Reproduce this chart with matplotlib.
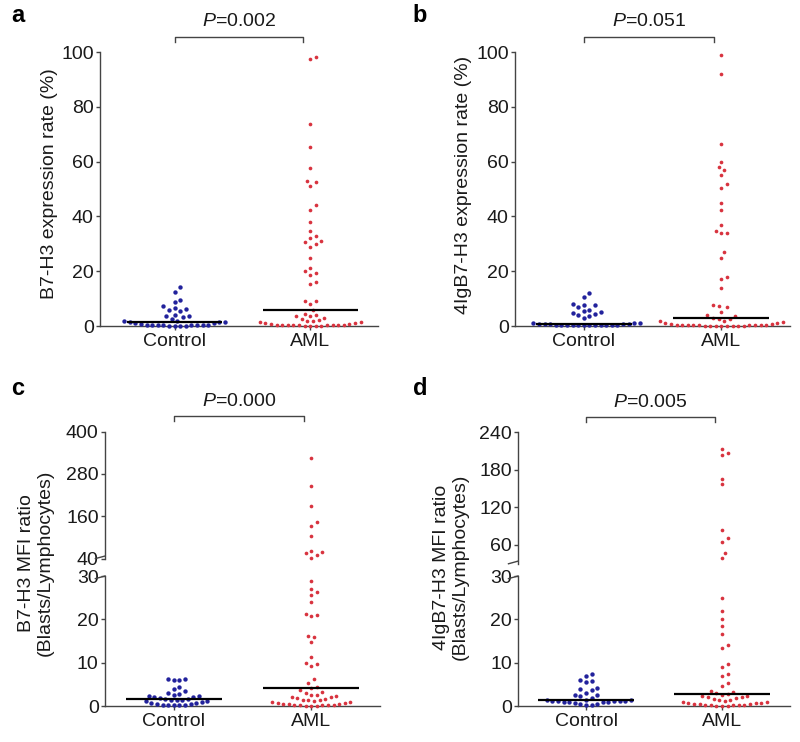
import numpy as np
import matplotlib
matplotlib.use("Agg")
import matplotlib.pyplot as plt
from matplotlib.transforms import blended_transform_factory

plt.rcParams['font.family'] = ['Liberation Sans', 'DejaVu Sans']
plt.rcParams['mathtext.fontset'] = 'custom'
plt.rcParams['mathtext.rm'] = 'Liberation Sans'
plt.rcParams['mathtext.it'] = 'Liberation Sans:italic'

groups = ['Control', 'AML']

# panel a: B7-H3 expression rate (%)
a_ctrl = [14.2, 12.6, 9.6, 8.8, 7.2, 6.6, 6.2, 5.8, 5.6, 4.2, 3.8, 3.6, 3.4, 2.4, 2.0, 1.8,
          1.6, 1.6, 1.4, 1.2, 1.0, 0.6, 0.5, 0.4, 0.4, 0.3, 0.3, 0.2, 0.2, 0.2, 0.1, 0.1, 0.1, 0.1]
a_aml = [98.2, 97.6, 73.9, 65.5, 57.5, 53.0, 52.5, 51.0, 44.0, 42.5, 38.0, 34.5, 33.0, 32.0,
         31.0, 30.5, 30.0, 29.0, 25.0, 21.0, 20.0, 19.5, 18.5, 16.0, 15.5, 9.2, 9.0, 8.2, 5.8,
         4.5, 4.0, 3.8, 3.5, 2.8, 2.5, 2.2, 2.0, 2.0, 1.6, 1.4, 1.2, 1.0, 0.8, 0.6, 0.5, 0.5,
         0.4, 0.4, 0.3, 0.3, 0.2, 0.2, 0.2, 0.1, 0.1, 0.1, 0.1]

# panel b: 4IgB7-H3 expression rate (%)
b_ctrl = [12.0, 10.5, 8.0, 7.8, 7.5, 7.0, 6.0, 5.5, 5.0, 4.8, 4.5, 4.0, 3.5, 3.0, 1.2, 1.0, 1.0,
          0.8, 0.8, 0.7, 0.6, 0.6, 0.5, 0.5, 0.5, 0.5, 0.5, 0.4, 0.4, 0.4, 0.3, 0.3, 0.3, 0.3]
b_aml = [99.0, 92.0, 66.5, 60.0, 58.0, 57.0, 55.0, 52.0, 50.5, 45.0, 42.5, 37.0, 34.5, 34.0,
         33.8, 27.0, 25.0, 18.0, 17.0, 14.0, 7.5, 7.2, 6.8, 5.2, 4.0, 3.5, 2.8, 2.6, 2.4, 2.0,
         1.8, 1.5, 1.2, 1.0, 0.8, 0.6, 0.5, 0.5, 0.4, 0.4, 0.3, 0.3, 0.2, 0.2, 0.2, 0.1, 0.1,
         0.1, 0.1, 0.1, 0.1, 0.1, 0.1]

# panel c: B7-H3 MFI ratio
c_ctrl = [6.2, 6.2, 6.1, 6.0, 4.3, 4.0, 3.4, 3.0, 2.8, 2.6, 2.4, 2.2, 2.0, 2.0, 1.8, 1.6,
          1.6, 1.5, 1.5, 1.4, 1.2, 1.2, 1.0, 0.8, 0.6, 0.5, 0.4, 0.3, 0.3, 0.2, 0.2, 0.2]
c_aml = [325, 246, 190, 145, 133, 105, 62, 58, 55, 50, 43,
         28.8, 26.9, 26.2, 25.6, 24.0, 21.2, 21.0, 20.8, 16.2, 16.0, 14.8, 11.2, 10.0, 9.8,
         9.2, 6.2, 5.2, 4.5, 4.1, 3.6, 3.2, 3.0, 2.6, 2.5, 2.4, 2.0, 2.0, 1.8, 1.6, 1.5, 1.5,
         1.4, 1.2, 1.0, 1.0, 0.8, 0.6, 0.5, 0.5, 0.4, 0.3, 0.3, 0.2, 0.2, 0.2, 0.1, 0.1, 0.1]

# panel d: 4IgB7-H3 MFI ratio
d_ctrl = [7.5, 7.0, 6.0, 5.8, 5.5, 4.2, 4.0, 3.8, 3.0, 2.6, 2.5, 2.2, 1.8, 1.5, 1.3, 1.3,
          1.2, 1.2, 1.2, 1.1, 1.1, 1.0, 1.0, 1.0, 0.9, 0.8, 0.5, 0.4, 0.3, 0.2]
d_aml = [214, 207, 204, 166, 157, 84, 71, 64, 47, 39,
         24.9, 21.9, 20.0, 18.4, 16.7, 14.0, 13.3, 9.8, 8.9, 7.4, 7.0, 5.3, 4.6, 3.5, 3.2,
         3.0, 2.7, 2.5, 2.4, 2.2, 2.0, 2.0, 1.8, 1.6, 1.5, 1.4, 1.2, 1.0, 1.0, 0.8, 0.8, 0.6,
         0.5, 0.5, 0.4, 0.3, 0.3, 0.2, 0.2, 0.2, 0.1, 0.1, 0.1]

p_texts = ['0.002', '0.051', '0.000', '0.005']

BLUE = '#22229c'
RED = '#d8333f'
AX = '#444444'
TXT = '#1a1a1a'

fig = plt.figure(figsize=(8, 7.42), dpi=100)


def style(ax, bottom=True):
    for s in ['top', 'right']:
        ax.spines[s].set_visible(False)
    ax.spines['left'].set_color(AX)
    ax.spines['left'].set_linewidth(1.0)
    ax.spines['bottom'].set_color(AX)
    ax.spines['bottom'].set_linewidth(1.0)
    ax.tick_params(axis='y', length=3, width=1.0, color=AX, pad=1.5,
                   labelsize=14, labelcolor=TXT)
    ax.set_xticks([0, 1])
    if bottom:
        ax.set_xticklabels(groups)
        ax.tick_params(axis='x', length=3, width=1.0, color=AX, pad=2,
                       labelsize=14, labelcolor=TXT)
    else:
        ax.spines['bottom'].set_visible(False)
        ax.tick_params(axis='x', bottom=False, labelbottom=False)


def swarm(ax, xc, vals, d=5.6):
    vals = np.asarray(vals, dtype=float)
    pts = ax.transData.transform(np.column_stack([np.full(len(vals), xc), vals]))
    x0 = pts[0, 0]
    offs = [0.0]
    for j in range(1, 80):
        offs += [j * d / 2, -j * d / 2]
    placed = []
    xs = np.empty(len(vals))
    for i in np.argsort(vals, kind='stable'):
        y = pts[i, 1]
        for off in offs:
            if all((off - px) ** 2 + (y - py) ** 2 >= (d * 0.98) ** 2 for px, py in placed):
                break
        placed.append((off, y))
        xs[i] = x0 + off
    back = ax.transData.inverted().transform(np.column_stack([xs, pts[:, 1]]))
    return back[:, 0]


def draw_group(ax, xc, vals, color, size, cut=None, upper=False):
    vals = np.asarray(vals, dtype=float)
    if cut is not None:
        vals = vals[vals > cut] if upper else vals[vals <= cut]
    if len(vals) == 0:
        return
    xs = swarm(ax, xc, vals)
    ax.scatter(xs, vals, s=size, color=color, linewidths=0, clip_on=False, zorder=3)


def median_line(ax, xc, vals, hw=0.35):
    ax.plot([xc - hw, xc + hw], [np.median(vals)] * 2, color='black', lw=1.6,
            zorder=4, solid_capstyle='butt')


def bracket(ax, p, y_line, y_text):
    tr = blended_transform_factory(ax.transData, fig.transFigure)
    ax.plot([0, 0, 0.95, 0.95], [y_line - 0.006, y_line, y_line, y_line - 0.006],
            color=AX, lw=1.0, transform=tr, clip_on=False)
    ax.text(0.475, y_text, r'$\it{P}$=' + p, transform=tr, ha='center', va='center',
            fontsize=14, color=TXT)


# ---- panels a and b (simple axes) ----
simple = [
    ([0.125, 0.5606, 0.3475, 0.3693], (-0.55, 1.5), a_ctrl, a_aml, p_texts[0],
     'B7-H3 expression rate (%)', (0.0625, 0.752), 'a', (0.022, 0.979)),
    ([0.6438, 0.5606, 0.3438, 0.3693], (-0.5, 1.5), b_ctrl, b_aml, p_texts[1],
     '4IgB7-H3 expression rate (%)', (0.579, 0.751), 'b', (0.525, 0.979)),
]
for rect, xl, ctrl, aml, p, ylab, lpos, letter, tpos in simple:
    ax = fig.add_axes(rect)
    style(ax)
    ax.set_xlim(*xl)
    ax.set_ylim(0, 100)
    ax.set_yticks([0, 20, 40, 60, 80, 100])
    draw_group(ax, 0, ctrl, BLUE, 10)
    draw_group(ax, 1, aml, RED, 7)
    median_line(ax, 0, ctrl)
    median_line(ax, 1, aml)
    bracket(ax, p, 0.950, 0.971)
    fig.text(lpos[0], lpos[1], ylab, rotation=90, ha='center', va='center',
             fontsize=14, color=TXT)
    fig.text(tpos[0], tpos[1], letter, ha='center', va='center', fontsize=17,
             fontweight='bold', color='black')

# ---- panels c and d (broken y axes) ----
broken = [
    (0.13125, 0.34375, [0.2472, 0.1710], (40, 400), [40, 160, 280, 400], 40,
     c_ctrl, c_aml, p_texts[2], 'B7-H3 MFI ratio\n(Blasts/Lymphocytes)', (0.045, 0.241),
     'c', (0.022, 0.477)),
    (0.6475, 0.34, [0.2402, 0.1772], (30, 240), [60, 120, 180, 240], 30,
     d_ctrl, d_aml, p_texts[3], '4IgB7-H3 MFI ratio\n(Blasts/Lymphocytes)', (0.564, 0.236),
     'd', (0.525, 0.477)),
]
for left, width, up, ulim, uticks, cut, ctrl, aml, p, ylab, lpos, letter, tpos in broken:
    low = fig.add_axes([left, 0.0485, width, 0.1752])
    top = fig.add_axes([left, up[0], width, up[1]])
    style(low)
    style(top, bottom=False)
    for ax in (low, top):
        ax.set_xlim(-0.5, 1.5)
    low.set_ylim(0, 30)
    low.set_yticks([0, 10, 20, 30])
    top.set_ylim(*ulim)
    top.set_yticks(uticks)
    for ax, is_up in ((low, False), (top, True)):
        draw_group(ax, 0, ctrl, BLUE, 10, cut, is_up)
        draw_group(ax, 1, aml, RED, 7, cut, is_up)
    median_line(low, 0, ctrl)
    median_line(low, 1, aml)
    # small break marks on the y axis
    for ax, yv in ((top, 0.0), (low, 1.0)):
        ax.plot([-0.035, 0.0], [yv - 0.02 if yv else yv - 0.0, yv + 0.02 if not yv else yv],
                transform=ax.transAxes, color=AX, lw=1.0, clip_on=False)
    y_top = up[0] + up[1]
    bracket(top, p, y_top + 0.0205, y_top + 0.0405)
    fig.text(lpos[0], lpos[1], ylab, rotation=90, ha='center', va='center',
             fontsize=14, color=TXT, linespacing=1.15)
    fig.text(tpos[0], tpos[1], letter, ha='center', va='center', fontsize=17,
             fontweight='bold', color='black')

fig.savefig('out.png', dpi=100)
